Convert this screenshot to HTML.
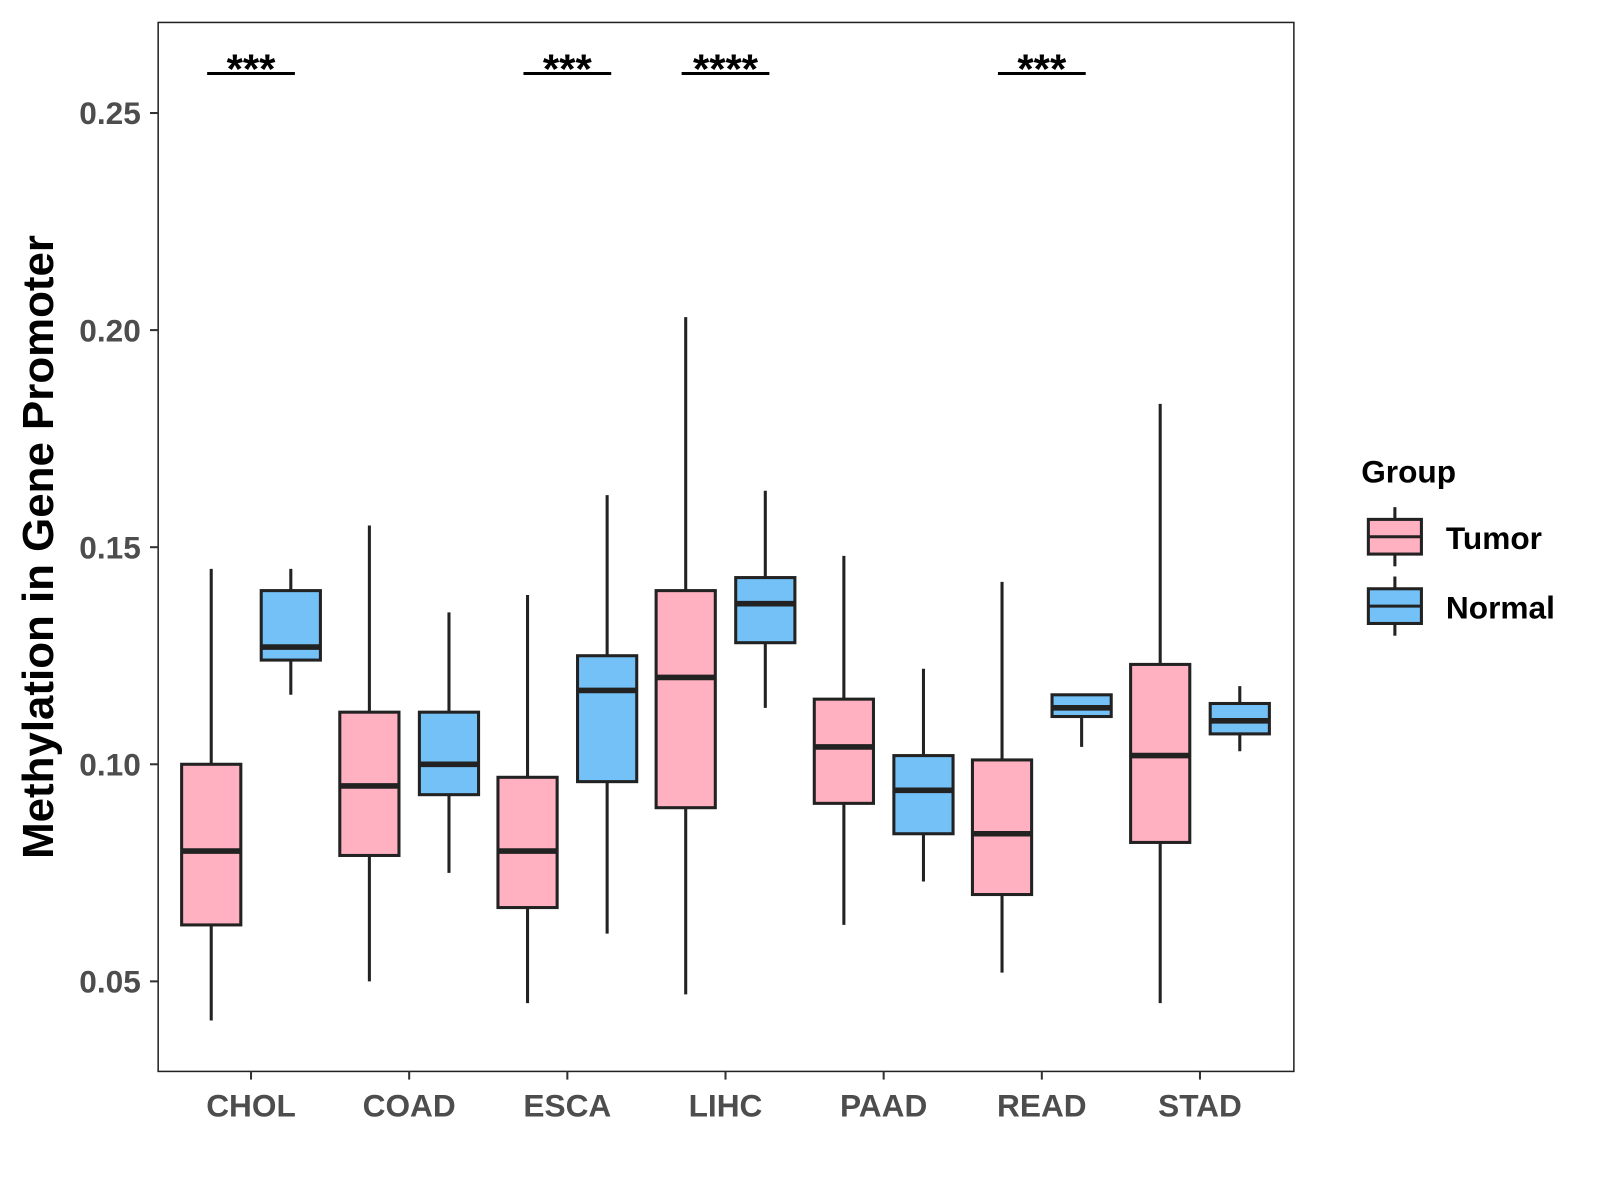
<!DOCTYPE html>
<html><head><meta charset="utf-8"><style>body{margin:0;background:#fff}svg{display:block}</style></head>
<body>
<svg id="chart" width="1600" height="1200" viewBox="0 0 1600 1200" font-family="Liberation Sans, sans-serif"><g id="root" transform="scale(1.0204)"></g></svg>
<script>
const categories=["CHOL","COAD","ESCA","LIHC","PAAD","READ","STAD"];
const tumorLow=[0.041,0.050,0.045,0.047,0.063,0.052,0.045];
const tumorQ1=[0.063,0.079,0.067,0.090,0.091,0.070,0.082];
const tumorMed=[0.080,0.095,0.080,0.120,0.104,0.084,0.102];
const tumorQ3=[0.100,0.112,0.097,0.140,0.115,0.101,0.123];
const tumorHigh=[0.145,0.155,0.139,0.203,0.148,0.142,0.183];
const normalLow=[0.116,0.075,0.061,0.113,0.073,0.104,0.103];
const normalQ1=[0.124,0.093,0.096,0.128,0.084,0.111,0.107];
const normalMed=[0.127,0.100,0.117,0.137,0.094,0.113,0.110];
const normalQ3=[0.140,0.112,0.125,0.143,0.102,0.116,0.114];
const normalHigh=[0.145,0.135,0.162,0.163,0.122,0.116,0.118];
const sigLabels=["***","","***","****","","***",""];
const yTicks=[0.05,0.10,0.15,0.20,0.25];
const yTickLabels=["0.05","0.10","0.15","0.20","0.25"];

const svg=document.getElementById('root');
const NS='http://www.w3.org/2000/svg';
const L=155,R=1268,T=22,B=1050;
const y=v=>749-(v-0.10)*4255;
const x=i=>246+i*155;
function el(tag,attrs,parent){const e=document.createElementNS(NS,tag);for(const k in attrs)e.setAttribute(k,attrs[k]);(parent||svg).appendChild(e);return e;}

const panel=el('rect',{x:L,y:T,width:R-L,height:B-T,fill:'none',stroke:'#222','stroke-width':1.5});



yTicks.forEach((t,i)=>{
  const tk=el('line',{x1:L-8,x2:L,y1:y(t),y2:y(t),stroke:'#333','stroke-width':2});
  
  
  const tx=el('text',{x:L-17,y:y(t)+11,'text-anchor':'end','font-size':31,'font-weight':'bold',fill:'#4d4d4d'});
  tx.textContent=yTickLabels[i];
  
  
});

function box(cx,lo,q1,med,q3,hi,fill,name){
  const g=el('g',{});
  
  
  el('line',{x1:cx,x2:cx,y1:y(hi),y2:y(lo),stroke:'#222','stroke-width':3},g);
  el('rect',{x:cx-29,y:y(q3),width:58,height:y(q1)-y(q3),fill:fill,stroke:'#222','stroke-width':3},g);
  el('line',{x1:cx-29,x2:cx+29,y1:y(med),y2:y(med),stroke:'#222','stroke-width':5.5},g);
}
categories.forEach((c,i)=>{
  box(x(i)-39,tumorLow[i],tumorQ1[i],tumorMed[i],tumorQ3[i],tumorHigh[i],'#FFB0C1','box-tumor-'+c.toLowerCase());
  box(x(i)+39,normalLow[i],normalQ1[i],normalMed[i],normalQ3[i],normalHigh[i],'#74C1F8','box-normal-'+c.toLowerCase());
  const tk=el('line',{x1:x(i),x2:x(i),y1:B,y2:B+8,stroke:'#333','stroke-width':2});
  
  
  const tx=el('text',{x:x(i),y:1094,'text-anchor':'middle','font-size':31,'font-weight':'bold',fill:'#4d4d4d'});
  tx.textContent=c;
  
  
  if(sigLabels[i]){
    const ln=el('line',{x1:x(i)-43,x2:x(i)+43,y1:72,y2:72,stroke:'#000','stroke-width':3});
    
    
    const st=el('text',{x:x(i),y:82,'text-anchor':'middle','font-size':41,'font-weight':'bold',fill:'#000'});
    st.textContent=sigLabels[i];
    
    
  }
});
</script>
<svg style="position:absolute;left:0;top:0" width="1600" height="1200" font-family="Liberation Sans, sans-serif">
 <g transform="scale(1.0204)">
  <text transform="translate(52,536) rotate(-90)" text-anchor="middle" font-size="43" font-weight="bold" fill="#000">Methylation in Gene Promoter</text>
  <g>
    <text x="1334" y="473" font-size="31" font-weight="bold">Group</text>
    <g>
      <line x1="1367" x2="1367" y1="497" y2="555" stroke="#222" stroke-width="3"/>
      <rect x="1341" y="509" width="52" height="34" fill="#FFB0C1" stroke="#222" stroke-width="3"/>
      <line x1="1341" x2="1393" y1="526" y2="526" stroke="#222" stroke-width="3"/>
      <text x="1417" y="538" font-size="31" font-weight="bold">Tumor</text>
    </g>
    <g>
      <line x1="1367" x2="1367" y1="565" y2="623" stroke="#222" stroke-width="3"/>
      <rect x="1341" y="577" width="52" height="34" fill="#74C1F8" stroke="#222" stroke-width="3"/>
      <line x1="1341" x2="1393" y1="594" y2="594" stroke="#222" stroke-width="3"/>
      <text x="1417" y="606" font-size="31" font-weight="bold">Normal</text>
    </g>
  </g>
 </g>
</svg>
</body></html>
